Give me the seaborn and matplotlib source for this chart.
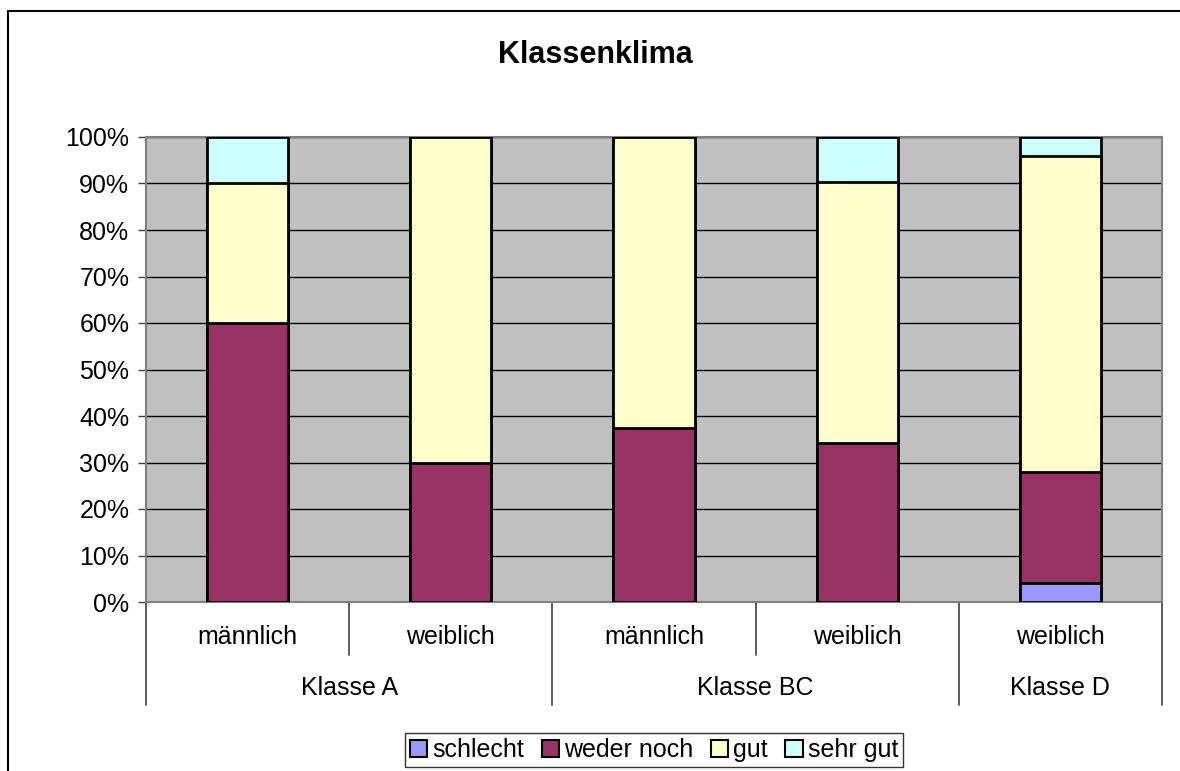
import matplotlib
matplotlib.use("Agg")
import matplotlib.pyplot as plt
import matplotlib.transforms as mtransforms
from matplotlib.lines import Line2D
from matplotlib.patches import Patch
import seaborn as sns
import numpy as np
import pandas as pd

# data (percent)
bar_ids = ["A_m", "A_w", "BC_m", "BC_w", "D_w"]
sub_labels = ["männlich", "weiblich", "männlich", "weiblich", "weiblich"]
groups = ["Klasse A", "Klasse BC", "Klasse D"]
group_sizes = [2, 2, 1]
series = ["schlecht", "weder noch", "gut", "sehr gut"]
schlecht = [0, 0, 0, 0, 4]
weder_noch = [60, 30, 37.5, 34.2, 24]
gut = [30, 70, 62.5, 56.1, 68]
sehr_gut = [10, 0, 0, 9.7, 4]
colors = ["#9999FF", "#993366", "#FFFFCC", "#CCFFFF"]

sns.set_style("white")
plt.rcParams["font.family"] = ["Liberation Sans", "DejaVu Sans"]
plt.rcParams["text.color"] = "black"
plt.rcParams["ytick.labelcolor"] = "black"

fig = plt.figure(figsize=(11.8, 7.71), dpi=100)
ax = fig.add_axes([146 / 1180, 1 - 602 / 771, 1016 / 1180, 465 / 771])
ax.set_facecolor("#C0C0C0")

vals = np.array([schlecht, weder_noch, gut, sehr_gut], dtype=float)
cum = np.cumsum(vals, axis=0)

# draw tallest stack first so lower segments sit on top
for i in range(len(series) - 1, -1, -1):
    df = pd.DataFrame({"bar": bar_ids, "val": cum[i]})
    sns.barplot(data=df, x="bar", y="val", order=bar_ids, color=colors[i],
                saturation=1, width=0.4, edgecolor="black", linewidth=2,
                ax=ax, zorder=3)

ax.set_xlim(-0.5, len(bar_ids) - 0.5)
ax.set_ylim(0, 100)
ax.set_yticks(np.arange(0, 101, 10))
ax.set_yticklabels([f"{v}%" for v in range(0, 101, 10)], fontsize=18)
ax.yaxis.grid(True, color="black", linewidth=1)
ax.set_axisbelow(True)
ax.set_xlabel("")
ax.set_ylabel("")
ax.set_xticks([])
ax.tick_params(axis="y", left=True, length=6, width=1, color="#404040", pad=6)
for s in ax.spines.values():
    s.set_color("#808080")
    s.set_linewidth(1.5)

# hierarchical category axis
trans = mtransforms.blended_transform_factory(ax.transData, ax.transAxes)
for i, lab in enumerate(sub_labels):
    ax.text(i, -0.075, lab, transform=trans, ha="center", va="center", fontsize=18)
pos = 0
bounds = [-0.5]
for g, n in zip(groups, group_sizes):
    ax.text(pos + (n - 1) / 2, -0.185, g, transform=trans, ha="center", va="center", fontsize=18)
    pos += n
    bounds.append(pos - 0.5)
for x in np.arange(-0.5, len(bar_ids)):
    y_end = -0.2215 if any(abs(x - b) < 1e-6 for b in bounds) else -0.114
    ax.add_line(Line2D([x, x], [0, y_end], transform=trans, color="#404040",
                       linewidth=1.2, clip_on=False))

fig.text(595 / 1180, 1 - 55 / 771, "Klassenklima", ha="center", va="center",
         fontsize=22, fontweight="bold")

handles = [Patch(facecolor=c, edgecolor="black", linewidth=1.5) for c in colors]
leg = fig.legend(handles, series, loc="center", bbox_to_anchor=(654 / 1180, 1 - 750 / 771),
                 ncol=4, fontsize=18, handlelength=0.7, handleheight=0.7, handletextpad=0.2,
                 columnspacing=0.7, borderpad=0.2, borderaxespad=0, frameon=True, fancybox=False)
leg.get_frame().set_edgecolor("black")
leg.get_frame().set_linewidth(1)

# outer chart border
fig.add_artist(Line2D([8 / 1180, 8 / 1180], [0, 1 - 11 / 771], transform=fig.transFigure,
                      color="black", linewidth=1.5))
fig.add_artist(Line2D([8 / 1180, 1], [1 - 11 / 771, 1 - 11 / 771], transform=fig.transFigure,
                      color="black", linewidth=1.5))

fig.savefig("out.png", dpi=100)
